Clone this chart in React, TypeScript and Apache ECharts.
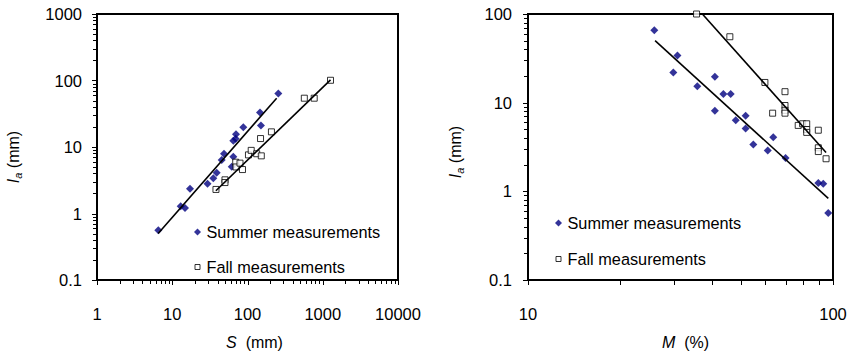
import React, { useEffect, useRef } from "react";
import * as echarts from "echarts";

// ---------- Left chart: Ia vs S ----------
const SUMMER_S = [6.53, 12.95, 14.77, 17.2, 29.4, 35.1, 38.96, 45.4, 48.7, 61.7, 64.8, 64.8, 69.7, 70.4, 87.9, 146.6, 151, 256.7];
const SUMMER_IA_S = [0.558, 1.28, 1.21, 2.35, 2.81, 3.39, 4.1, 6.38, 7.92, 5.06, 7.12, 12.4, 13.3, 15.5, 19.8, 32.9, 21.1, 63.9];
const FALL_S = [38.1, 50.2, 50.2, 69.7, 70.4, 79.5, 85.8, 103, 112, 132.5, 152.5, 149, 208, 569, 770, 1268];
const FALL_IA_S = [2.3, 3.21, 2.92, 5.91, 5.01, 5.72, 4.58, 7.61, 8.9, 7.92, 7.36, 13.4, 16.9, 54.2, 54.2, 100.8];
const SUMMER_FIT_S = [[6.5, 0.5], [244, 54.2]];
const FALL_FIT_S = [[38, 2.2], [1268, 102]];

// ---------- Right chart: Ia vs M ----------
const SUMMER_M = [25.95, 30.9, 29.95, 35.9, 41.0, 43.7, 46.2, 41.0, 51.7, 48.0, 51.7, 63.7, 54.8, 61.1, 69.9, 89.5, 92.9, 96.5];
const SUMMER_IA_M = [65.5, 34.0, 21.9, 15.3, 19.6, 12.5, 12.5, 8.12, 7.11, 6.33, 5.11, 4.08, 3.37, 2.88, 2.37, 1.24, 1.22, 0.569];
const FALL_M = [35.7, 45.9, 59.8, 69.6, 69.6, 69.6, 69.6, 63.4, 76.9, 79.5, 82.0, 82.0, 82.0, 89.5, 89.5, 89.5, 94.9];
const FALL_IA_M = [100, 55.4, 16.9, 13.3, 9.29, 8.2, 7.61, 7.61, 5.54, 5.78, 5.78, 4.98, 4.62, 4.89, 3.1, 2.81, 2.33];
const SUMMER_FIT_M = [[26.1, 50.1], [96.5, 0.833]];
const FALL_FIT_M = [[37.3, 100], [94.9, 2.74]];

// ---------- Axis tick definitions ----------
const MINOR_STEPS = [2, 3, 4, 5, 6, 7, 8, 9];
const S_MAJOR = [1, 10, 100, 1000, 10000];
const IA_S_MAJOR = [0.1, 1, 10, 100, 1000];
const M_MAJOR = [10, 100];
const IA_M_MAJOR = [0.1, 1, 10, 100];

const SUMMER_NAME = "Summer measurements";
const FALL_NAME = "Fall measurements";

const FONT = "'Liberation Sans', Arial, Helvetica, sans-serif";

const minorVals = (majors: number[]) => {
  const out: number[] = [];
  majors.slice(0, -1).forEach((d) => MINOR_STEPS.forEach((m) => out.push(+(d * m).toPrecision(6))));
  return out;
};

const zip = (a: number[], b: number[]) => a.map((v, i) => [v, b[i]]);

const labelFmt = (v: number) => String(+Number(v).toPrecision(6));

function logAxis(
  min: number,
  max: number,
  idx: number,
  isX: boolean,
  name: string,
  nameGap: number,
  margin: number,
  namePad: number[]
) {
  return {
    type: "log",
    logBase: 10,
    gridIndex: idx,
    min,
    max,
    name,
    nameLocation: "middle",
    nameGap,
    nameRotate: isX ? 0 : 90,
    nameTextStyle: {
      fontSize: 16,
      color: "#000",
      fontFamily: FONT,
      lineHeight: 20,
      padding: namePad,
      rich: {
        i: { fontStyle: "italic", fontSize: 16, color: "#000", fontFamily: FONT, lineHeight: 20 },
        s: { fontStyle: "italic", fontSize: 11, color: "#000", fontFamily: FONT, lineHeight: 11, verticalAlign: "bottom" },
      },
    },
    axisLine: { show: true, onZero: false, lineStyle: { color: "#000", width: 2 } },
    axisTick: { show: false },
    axisLabel: {
      fontSize: 16.5,
      color: "#000",
      fontFamily: FONT,
      margin,
      showMinLabel: true,
      showMaxLabel: true,
      formatter: labelFmt,
    },
    splitLine: { show: false },
    minorTick: { show: false },
  };
}

function scatterSummer(data: number[][], idx: number) {
  return {
    name: SUMMER_NAME,
    type: "scatter",
    xAxisIndex: idx,
    yAxisIndex: idx,
    symbol: "diamond",
    symbolSize: 8,
    itemStyle: { color: "#000080" },
    data,
    z: 3,
  };
}

function scatterFall(data: number[][], idx: number) {
  return {
    name: FALL_NAME,
    type: "scatter",
    xAxisIndex: idx,
    yAxisIndex: idx,
    symbol: "rect",
    symbolSize: 6,
    itemStyle: { color: "#fff", borderColor: "#000", borderWidth: 1 },
    data,
    z: 3,
  };
}

function fitLine(name: string, data: number[][], idx: number) {
  return {
    name,
    type: "line",
    xAxisIndex: idx,
    yAxisIndex: idx,
    symbol: "none",
    lineStyle: { color: "#000", width: 1.6 },
    data,
    z: 4,
  };
}

function legendAt(left: number, top: number, gap: number) {
  return {
    data: [
      { name: SUMMER_NAME, icon: "path://M0,0M8,8M4,0.5L7.5,4L4,7.5L0.5,4Z", itemStyle: { color: "#000080", borderWidth: 0 } },
      { name: FALL_NAME, icon: "path://M0,0M8,8M1.5,1.5H6.5V6.5H1.5Z", itemStyle: { color: "#fff", borderColor: "#000", borderWidth: 1 } },
    ],
    orient: "vertical",
    left,
    top,
    padding: 0,
    itemGap: gap,
    itemWidth: 8,
    itemHeight: 8,
    selectedMode: false,
    textStyle: { fontSize: 16.3, color: "#000", fontFamily: FONT, lineHeight: 16 },
  };
}

export default function App() {
  const ref = useRef<HTMLDivElement>(null);

  useEffect(() => {
    if (!ref.current) return;
    const chart = echarts.init(ref.current, null, { renderer: "svg" });
    const option: any = {
      animation: false,
      backgroundColor: "#fff",
      grid: [
        { left: 97, top: 14, width: 301, height: 277, show: true, borderColor: "#000", borderWidth: 2, backgroundColor: "transparent", containLabel: false },
        { left: 528, top: 14, width: 305, height: 277, show: true, borderColor: "#000", borderWidth: 2, backgroundColor: "transparent", containLabel: false },
      ],
      legend: [legendAt(193, 224, 19), legendAt(554, 215, 20)],
      xAxis: [
        logAxis(1, 10000, 0, true, "{i|S}  (mm)", 52, 25, [0, 0, 0, 14]),
        logAxis(10, 100, 1, true, "{i|M}  (%)", 52, 25, [0, 0, 0, 10]),
      ],
      yAxis: [
        logAxis(0.1, 1000, 0, false, "{i|I}{s|a} (mm)", 74, 15, [0, 20, 0, 0]),
        logAxis(0.1, 100, 1, false, "{i|I}{s|a} (mm)", 63, 16, [0, 10, 0, 0]),
      ],
      series: [
        scatterSummer(zip(SUMMER_S, SUMMER_IA_S), 0),
        scatterFall(zip(FALL_S, FALL_IA_S), 0),
        fitLine("Summer fit S", SUMMER_FIT_S, 0),
        fitLine("Fall fit S", FALL_FIT_S, 0),
        scatterSummer(zip(SUMMER_M, SUMMER_IA_M), 1),
        scatterFall(zip(FALL_M, FALL_IA_M), 1),
        fitLine("Summer fit M", SUMMER_FIT_M, 1),
        fitLine("Fall fit M", FALL_FIT_M, 1),
      ],
    };
    chart.setOption(option);

    // Tick marks placed through the axes' own log scales
    const els: any[] = [];
    const addX = (gi: number, vals: number[], yMin: number, len: number) => {
      vals.forEach((v) => {
        const p = chart.convertToPixel({ gridIndex: gi } as any, [v, yMin]) as number[];
        if (!p) return;
        const x = Math.round(p[0]) + 0.5;
        els.push({
          type: "line",
          silent: true,
          z: 10,
          shape: { x1: x, y1: p[1], x2: x, y2: p[1] + len },
          style: { stroke: "#000", lineWidth: 1 },
        });
      });
    };
    const addY = (gi: number, vals: number[], xMin: number, len: number) => {
      vals.forEach((v) => {
        const p = chart.convertToPixel({ gridIndex: gi } as any, [xMin, v]) as number[];
        if (!p) return;
        const y = Math.round(p[1]) + 0.5;
        els.push({
          type: "line",
          silent: true,
          z: 10,
          shape: { x1: p[0], y1: y, x2: p[0] - len, y2: y },
          style: { stroke: "#000", lineWidth: 1 },
        });
      });
    };
    addX(0, S_MAJOR, 0.1, 5);
    addX(0, minorVals(S_MAJOR), 0.1, 4);
    addY(0, IA_S_MAJOR, 1, 5);
    addY(0, minorVals(IA_S_MAJOR), 1, 4);
    addX(1, M_MAJOR, 0.1, 5);
    addX(1, minorVals(M_MAJOR), 0.1, 5);
    addY(1, IA_M_MAJOR, 10, 5);
    addY(1, minorVals(IA_M_MAJOR), 10, 4);
    chart.setOption({ graphic: els });

    return () => chart.dispose();
  }, []);

  return (
    <div
      ref={ref}
      style={{ position: "fixed", left: 0, top: 0, width: 850, height: 357, background: "#fff" }}
    />
  );
}
